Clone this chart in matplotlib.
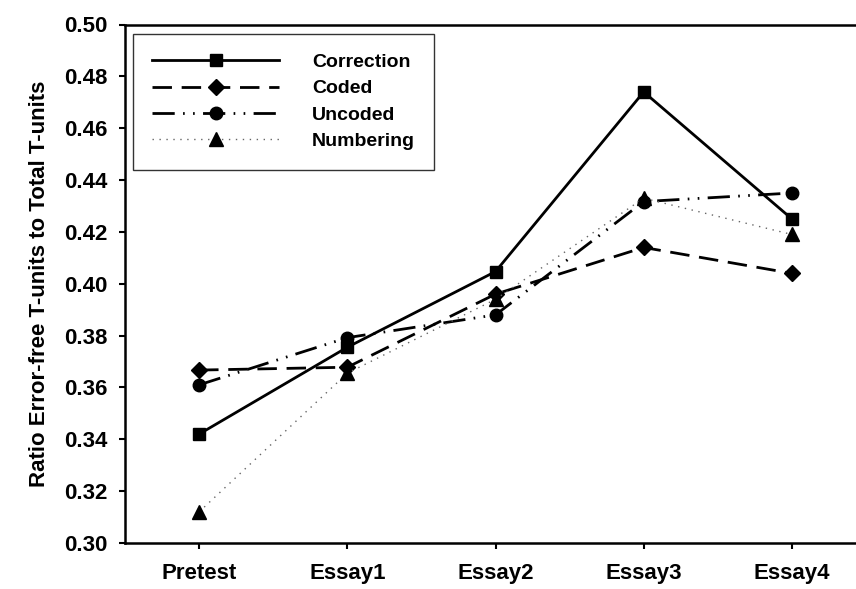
import matplotlib
matplotlib.use("Agg")
import matplotlib.pyplot as plt

# values
tests = ['Pretest', 'Essay1', 'Essay2', 'Essay3', 'Essay4']
correction = [0.342, 0.3755, 0.4047, 0.474, 0.425]
coded = [0.3667, 0.3678, 0.396, 0.414, 0.404]
uncoded = [0.361, 0.3792, 0.388, 0.4317, 0.435]
numbering = [0.312, 0.3655, 0.394, 0.433, 0.419]

plt.rcParams['font.family'] = ['Liberation Sans', 'DejaVu Sans']
plt.rcParams['font.weight'] = 'bold'

fig = plt.figure(figsize=(8.56, 5.89), dpi=100)
# axes runs slightly past the right edge, as in the reference
ax = fig.add_axes([125 / 856, 46 / 589, 741 / 856, 518.5 / 589])

x = list(range(len(tests)))
ax.plot(x, correction, color='black', lw=2, linestyle='-', marker='s', ms=8.5, label='Correction')
ax.plot(x, coded, color='black', lw=2, linestyle=(0, (7, 3.5)), marker='D', ms=8, label='Coded')
ax.plot(x, uncoded, color='black', lw=2, linestyle=(0, (8, 3, 0.6, 3, 0.6, 3)), marker='o', ms=9,
        label='Uncoded')
ax.plot(x, numbering, color='#666666', lw=1, linestyle=(0, (1, 4)), marker='^', ms=10,
        markerfacecolor='black', markeredgecolor='black', label='Numbering')

ax.set_xlim(-0.5, 4.5)
ax.set_ylim(0.30, 0.50)
ax.set_xticks(x)
ax.set_xticklabels(tests, fontsize=16, fontweight='bold')
ax.set_yticks([0.30 + 0.02 * i for i in range(11)])
ax.set_yticklabels([f'{0.30 + 0.02 * i:.2f}' for i in range(11)], fontsize=16, fontweight='bold')
ax.tick_params(axis='both', direction='out', length=4.5, width=1.5)
ax.tick_params(axis='y', pad=8)
ax.tick_params(axis='x', pad=10)
ax.set_ylabel('Ratio Error-free T-units to Total T-units', fontsize=16, fontweight='bold', labelpad=10)

for side in ['left', 'bottom', 'top', 'right']:
    ax.spines[side].set_linewidth(1.8)

leg = ax.legend(loc='upper left', bbox_to_anchor=(0.0108, 0.9817), borderaxespad=0,
                handlelength=6.5, frameon=True, fancybox=False, edgecolor='black',
                borderpad=1.0, labelspacing=0.45, handletextpad=1.7,
                prop={'weight': 'bold', 'size': 14})
leg.get_frame().set_linewidth(1.0)

fig.savefig('out.png', dpi=100)
